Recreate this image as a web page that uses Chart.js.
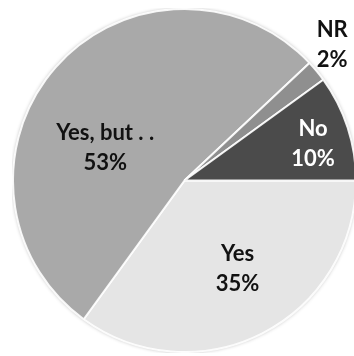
<!DOCTYPE html>
<html>
<head>
<meta charset="utf-8">
<script src="https://cdn.jsdelivr.net/npm/chart.js@4.4.1/dist/chart.umd.min.js"></script>
<style>
  html, body { margin: 0; padding: 0; background: #fff; overflow: hidden; }
  body { width: 354px; height: 356px; position: relative; }
  #wrap { position: absolute; left: 12px; top: 8px; width: 345px; height: 345px; }
</style>
</head>
<body>
<div id="wrap"><canvas id="chart"></canvas></div>
<script>
// answers, clockwise from 3 o'clock
let categories = ['Yes', 'Yes, but . .', 'NR', 'No'];
let shares = [35, 53, 2, 10];
let sliceColors = ['#e5e5e5', '#a9a9a9', '#8f8f8f', '#4b4b4b'];
let textColors = ['#111', '#111', '#111', '#fff'];

// where each label sits: angle tweak (deg) from the slice middle, and distance as part of the radius
let labelSpots = [[-4, 0.60], [-19, 0.50], [-3, 1.17], [2, 0.78]];

let shade = function (hex, amt) {
    let n = parseInt(hex.slice(1), 16);
    let c = [n >> 16, (n >> 8) & 255, n & 255].map(v => Math.max(0, Math.min(255, Math.round(v + amt))));
    return 'rgb(' + c.join(',') + ')';
}

// radial fill with a soft rim so the pie looks bevelled
let sliceFill = function (context) {
    let chart = context.chart;
    let arc = chart.getDatasetMeta(0).data[context.dataIndex];
    let base = sliceColors[context.dataIndex];
    if (!arc || !arc.outerRadius) return base;
    let g = chart.ctx.createRadialGradient(arc.x, arc.y, 0, arc.x, arc.y, arc.outerRadius);
    g.addColorStop(0, base);
    g.addColorStop(0.9, base);
    g.addColorStop(0.96, shade(base, 12));
    g.addColorStop(0.985, shade(base, -25));
    g.addColorStop(1, shade(base, -75));
    return g;
}

let pieShadow = {
    id: 'pieShadow',
    beforeDatasetsDraw(chart) {
        let arc = chart.getDatasetMeta(0).data[0];
        if (!arc) return;
        let ctx = chart.ctx;
        ctx.save();
        ctx.shadowColor = 'rgba(0,0,0,0.45)';
        ctx.shadowBlur = 4;
        ctx.fillStyle = '#777';
        ctx.beginPath();
        ctx.arc(arc.x, arc.y, arc.outerRadius - 0.5, 0, Math.PI * 2);
        ctx.fill();
        ctx.restore();
    }
}

let sliceLabels = {
    id: 'sliceLabels',
    afterDatasetsDraw(chart) {
        let ctx = chart.ctx;
        ctx.save();
        ctx.font = 'bold 22px Lato';
        ctx.textAlign = 'center';
        ctx.textBaseline = 'middle';
        chart.getDatasetMeta(0).data.forEach((arc, i) => {
            let mid = (arc.startAngle + arc.endAngle) / 2 + labelSpots[i][0] * Math.PI / 180;
            let r = arc.outerRadius * labelSpots[i][1];
            let x = arc.x + Math.cos(mid) * r;
            let y = arc.y + Math.sin(mid) * r;
            ctx.fillStyle = textColors[i];
            ctx.fillText(categories[i], x, y - 15);
            ctx.fillText(shares[i] + '%', x, y + 15);
        });
        ctx.restore();
    }
}

const ctx = document.getElementById('chart');

new Chart(ctx, {
    type: 'pie',
    data: {
        labels: categories,
        datasets: [{
            data: shares,
            backgroundColor: sliceFill,
            borderColor: 'rgba(255,255,255,0.9)',
            borderWidth: 2
        }]
    },
    options: {
        responsive: true,
        maintainAspectRatio: false,
        animation: false,
        rotation: 90,
        layout: { padding: 0 },
        plugins: {
            legend: { display: false },
            tooltip: { enabled: false }
        }
    },
    plugins: [pieShadow, sliceLabels]
});
</script>
</body>
</html>
